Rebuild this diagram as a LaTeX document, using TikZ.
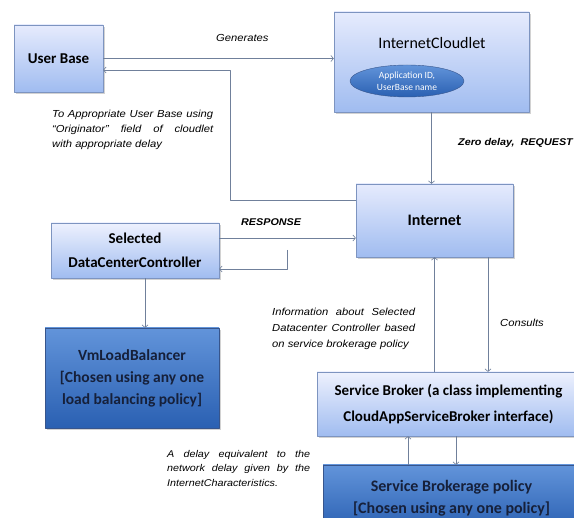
\documentclass[tikz,border=0pt]{standalone}
\usepackage{fontspec}
\setmainfont{Carlito}
\newfontfamily\notefont[FakeStretch=1.1]{Liberation Sans}
\usetikzlibrary{arrows.meta,shadows,shapes.geometric}
\definecolor{lighttop}{RGB}{230,235,253}
\definecolor{lightbot}{RGB}{160,188,240}
\definecolor{boxline}{RGB}{125,148,192}
\definecolor{darktop}{RGB}{98,148,218}
\definecolor{darkbot}{RGB}{42,96,178}
\definecolor{darkline}{RGB}{55,85,140}
\definecolor{darktext}{RGB}{22,32,58}
\definecolor{connline}{RGB}{112,128,155}
\newcommand{\jline}[2]{\makebox[#1][s]{#2}}
\begin{document}
\begin{tikzpicture}[x=1pt, y=-1pt, line join = round,
	box/.style={rectangle, draw=boxline, top color=lighttop, bottom color=lightbot, inner sep=0pt, align=center,
		drop shadow={shadow xshift=2pt, shadow yshift=-2pt, fill=black!35}},
	darkbox/.style={box, draw=darkline, top color=darktop, bottom color=darkbot, text=darktext},
	conn/.style={draw=connline, semithick, -{Straight Barb[length=2.5pt,width=6pt]}},
	note/.style={font=\notefont\itshape\fontsize{10.2}{15}\selectfont, inner sep=0pt, align=left},
	bnote/.style={note, font=\notefont\bfseries\itshape\fontsize{9.8}{12}\selectfont}]
	\useasboundingbox (0,0) rectangle (574,518);
	\clip (0,0) rectangle (574,518);
	\fill[white] (0,0) rectangle (574,518);
	% boxes
	\node[box, minimum width=89pt, minimum height=67pt, font=\bfseries\fontsize{15}{18}\selectfont] (ub) at (58.5,58.5) {User Base};
	\node[box, minimum width=195pt, minimum height=100pt] (ic) at (431.5,62) {};
	\node[font=\fontsize{16}{19}\selectfont, inner sep=0pt] (ictitle) at (432,43) {InternetCloudlet};
	\node[ellipse, draw=darkline, top color=darktop, bottom color=darkbot, text=white, minimum width=114pt, minimum height=32pt,
		inner sep=0pt, align=center, font=\fontsize{9.5}{12}\selectfont] (appid) at (407,81) {Application ID,\\UserBase name};
	\node[box, minimum width=157pt, minimum height=73pt, font=\bfseries\fontsize{16}{19}\selectfont] (inet) at (434.5,220.5) {Internet};
	\node[box, top color=lighttop!70, minimum width=168pt, minimum height=55pt, font=\bfseries\fontsize{15}{24}\selectfont] (dcc) at (135,250.5) {Selected\\DataCenterController};
	\node[darkbox, minimum width=174pt, minimum height=100pt, font=\bfseries\fontsize{15.5}{22}\selectfont] (vlb) at (132,378) {VmLoadBalancer\\{}[Chosen using any one\\load balancing policy]};
	\node[box, top color=lighttop!70, minimum width=263pt, minimum height=64pt, font=\bfseries\fontsize{15}{26}\selectfont] (sb) at (448.5,404) {Service Broker (a class implementing\\CloudAppServiceBroker interface)};
	\node[darkbox, minimum width=257pt, minimum height=66pt, font=\bfseries\fontsize{16}{22}\selectfont] (sbp) at (451.5,498) {Service Brokerage policy\\{}[Chosen using any one policy]};
	% connectors
	\draw[conn] (ub.east) -- (ub.east -| ic.west);
	\draw[conn] ([yshift=-17pt]inet.north west) -| ([xshift=127pt,yshift=-11.5pt]ub.east) -- ([yshift=-11.5pt]ub.east);
	\coordinate (resp) at ([yshift=12.5pt]dcc.east);
	\draw[conn] (resp) -- (resp -| inet.west);
	\coordinate (back) at (287,250);
	\draw[conn] (back) |- ([yshift=-18.5pt]dcc.east);
	\draw[conn] (ic.south) -- (ic.south |- inet.north);
	\draw[conn] ([xshift=10pt]dcc.south) -- ([xshift=10pt]dcc.south |- vlb.north);
	\draw[conn] (inet.south |- sb.north) -- (inet.south);
	\draw[conn] ([xshift=53.5pt]inet.south) -- ([xshift=53.5pt]inet.south |- sb.north);
	\draw[conn] ([xshift=-40.5pt]sb.south |- sbp.north) -- ([xshift=-40.5pt]sb.south);
	\draw[conn] ([xshift=7.5pt]sb.south) -- ([xshift=7.5pt]sb.south |- sbp.north);
	% labels
	\node[note, anchor=west] (gen) at (216,38) {Generates};
	\node[note, anchor=north west] (orig) at (52,110) {\jline{161pt}{To Appropriate User Base using}\\\jline{161pt}{“Originator” field of cloudlet}\\with appropriate delay};
	\node[bnote, anchor=west] (req) at (458,143) {Zero delay,~ REQUEST};
	\node[bnote, anchor=west] (respl) at (241,222) {RESPONSE};
	\node[note, anchor=north west, font=\notefont\itshape\fontsize{10.2}{16}\selectfont] (info) at (272,308) {\jline{143pt}{Information about Selected}\\\jline{143pt}{Datacenter Controller based}\\on service brokerage policy};
	\node[note, anchor=west] (cons) at (500,323) {Consults};
	\node[note, anchor=north west, font=\notefont\itshape\fontsize{9.8}{14.5}\selectfont] (delay) at (167,450) {\jline{143pt}{A delay equivalent to the}\\\jline{143pt}{network delay given by the}\\InternetCharacteristics.};
\end{tikzpicture}
\end{document}
